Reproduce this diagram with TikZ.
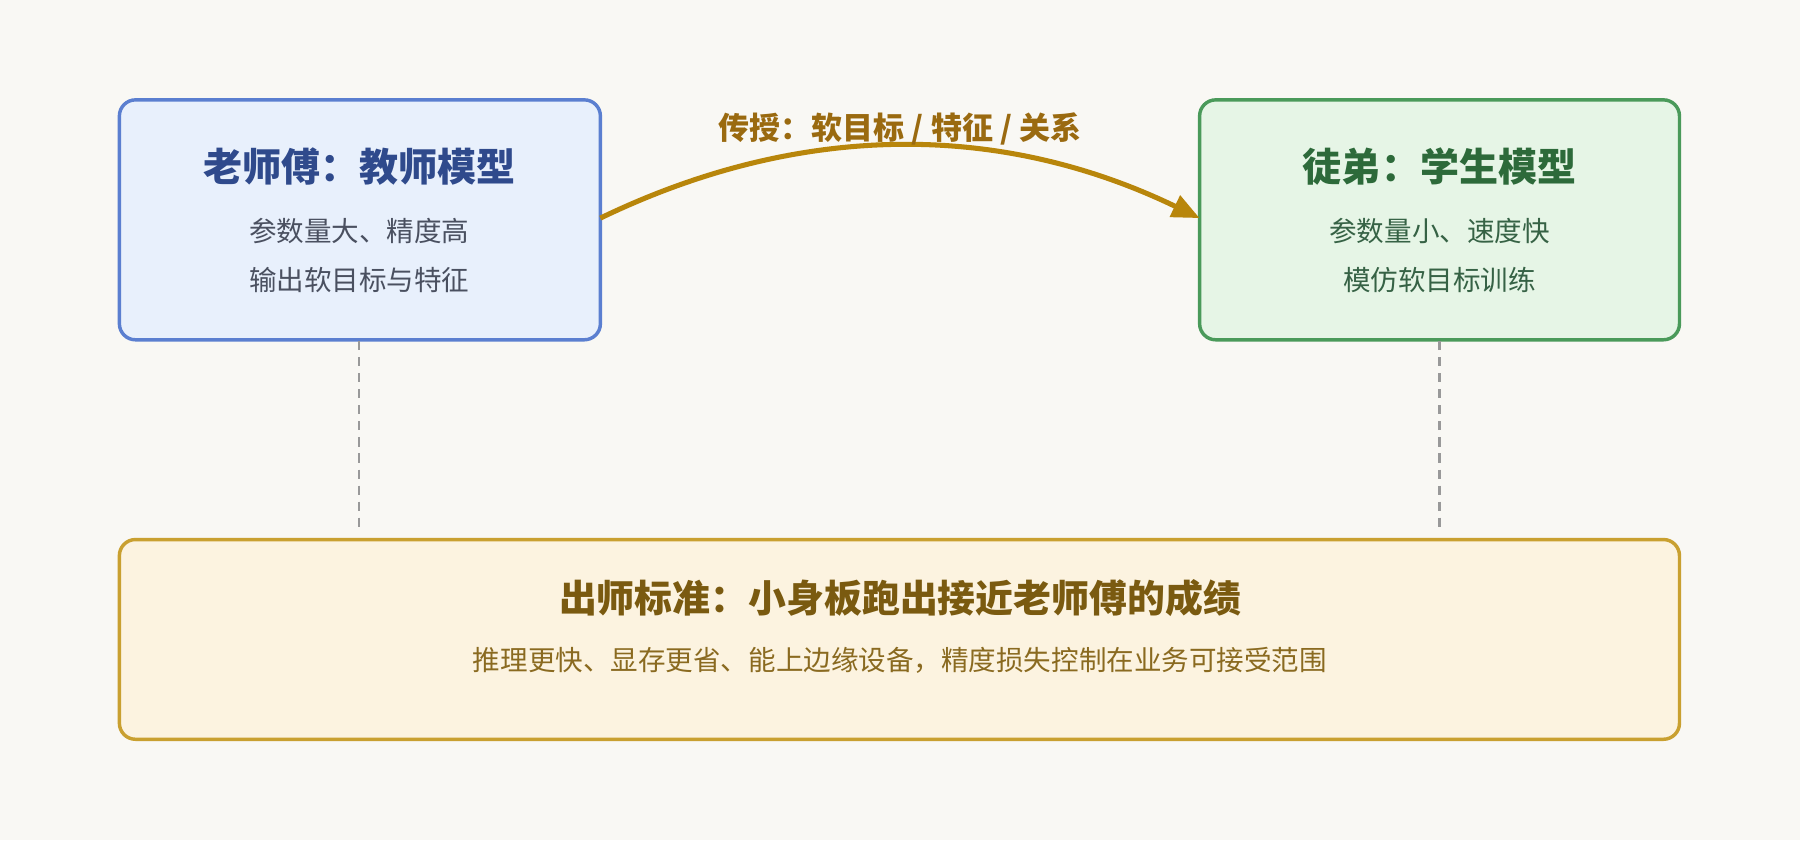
\documentclass[tikz,border=0pt]{standalone}
\usepackage{fontspec}
\setmainfont{Noto Sans CJK SC}
\usetikzlibrary{arrows.meta}
\definecolor{bg}{HTML}{F9F8F4}
\definecolor{tfill}{HTML}{E8F0FC}\definecolor{tline}{HTML}{5B7FD0}\definecolor{ttext}{HTML}{2F4A8C}
\definecolor{sfill}{HTML}{E6F5E6}\definecolor{sline}{HTML}{4A9A5A}\definecolor{stext}{HTML}{2D6A3A}
\definecolor{bfill}{HTML}{FCF3E0}\definecolor{bline}{HTML}{C9A030}\definecolor{btext}{HTML}{7A5A10}\definecolor{bsub}{HTML}{8A6A20}
\definecolor{body}{HTML}{4A5060}\definecolor{arc}{HTML}{B8860B}\definecolor{arct}{HTML}{9A6A10}
\begin{document}
\begin{tikzpicture}[x=0.5pt,y=-0.5pt,
  box/.style={draw,line width=1.5pt,rounded corners=7pt},
  ttl/.style={font=\bfseries\fontsize{17}{20}\selectfont},
  sub/.style={font=\fontsize{12}{14}\selectfont,text=body},
  dashln/.style={draw=gray!80,line width=1pt,dash pattern=on 4pt off 3pt}]
\fill[bg] (0,0) rectangle (1568,732);
\useasboundingbox (0,0) rectangle (1568,732);
\draw[box,fill=tfill,draw=tline] (104,87) rectangle (523,296);
\draw[box,fill=sfill,draw=sline] (1045,87) rectangle (1463,296);
\draw[box,fill=bfill,draw=bline] (104,470) rectangle (1463,644);
\node[ttl,text=ttext] (t1) at (313,145) {老师傅：教师模型};
\node[sub] (t2) at (313,201) {参数量大、精度高};
\node[sub] (t3) at (313,244) {输出软目标与特征};
\node[ttl,text=stext] (s1) at (1254,145) {徒弟：学生模型};
\node[sub,text=stext!70!body] (s2) at (1254,201) {参数量小、速度快};
\node[sub,text=stext!70!body] (s3) at (1254,244) {模仿软目标训练};
\node[ttl,text=btext,font=\bfseries\fontsize{16.5}{20}\selectfont] (b1) at (784,521) {出师标准：小身板跑出接近老师傅的成绩};
\node[sub,text=bsub] (b2) at (784,575) {推理更快、显存更省、能上边缘设备，精度损失控制在业务可接受范围};
\coordinate (ta) at (523,190); \coordinate (sa) at (1045,190);
\draw[arc,line width=2.2pt,-{Triangle[length=12pt,width=10pt]}] (ta) .. controls (697,106) and (871,106) .. (sa);
\node[font=\bfseries\fontsize{13.5}{16}\selectfont,text=arct] (lab) at (784,112) {传授：软目标 / 特征 / 关系};
\coordinate (d1a) at (313,297); \coordinate (d1b) at (313,462);
\coordinate (d2a) at (1254,297); \coordinate (d2b) at (1254,462);
\draw[dashln] (d1a) -- (d1b);
\draw[dashln] (d2a) -- (d2b);
\end{tikzpicture}
\end{document}
